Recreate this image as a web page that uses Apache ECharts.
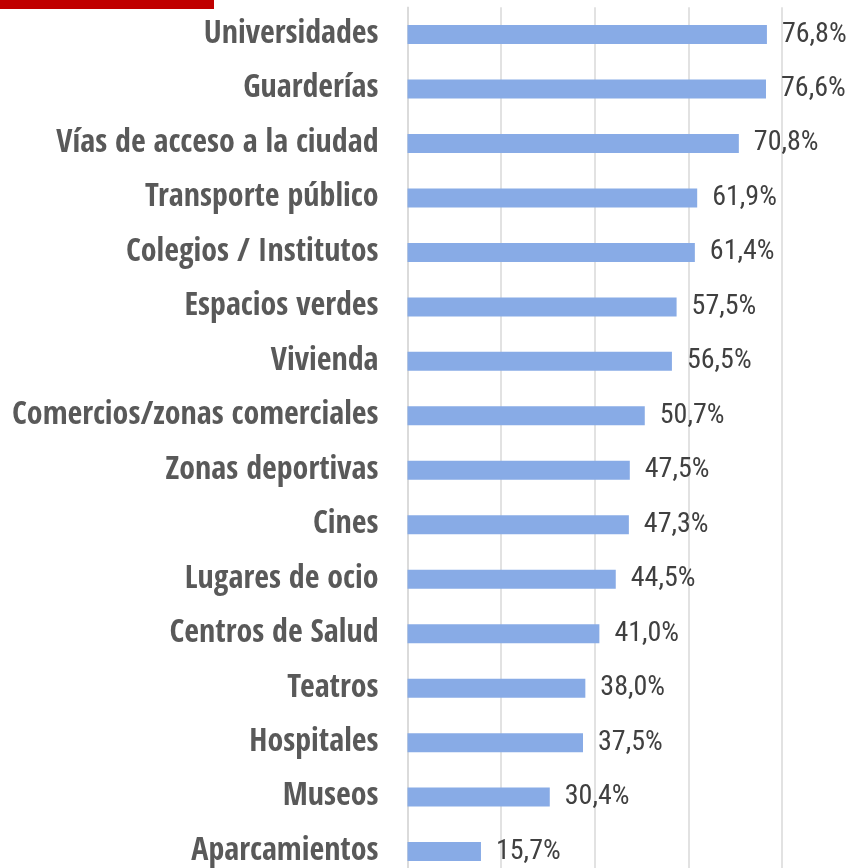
<!DOCTYPE html><html><head><meta charset="utf-8"><script src="https://cdn.jsdelivr.net/npm/echarts@6/dist/echarts.min.js"></script>
<style>html,body{margin:0;padding:0;overflow:hidden;background:#fff;width:850px;height:868px}</style></head><body><div id="c" style="width:880px;height:880px"></div><script>
var categories=['Universidades','Guarderías','Vías de acceso a la ciudad','Transporte público','Colegios / Institutos','Espacios verdes','Vivienda','Comercios/zonas comerciales','Zonas deportivas','Cines','Lugares de ocio','Centros de Salud','Teatros','Hospitales','Museos','Aparcamientos'];
var values=[76.8,76.6,70.8,61.9,61.4,57.5,56.5,50.7,47.5,47.3,44.5,41.0,38.0,37.5,30.4,15.7];
var ch=echarts.init(document.getElementById('c'),null,{renderer:'canvas'});
ch.setOption({
  animation:false,
  graphic:[{type:'rect',left:0,top:0,shape:{width:214,height:9},style:{fill:'#c00000'}}],
  grid:{left:407.5,top:7.3,right:4.5,bottom:1.2,containLabel:false},
  xAxis:{type:'value',min:0,max:100,interval:20,axisLabel:{show:false},axisTick:{show:false},axisLine:{show:false},
    splitLine:{show:true,lineStyle:{color:'#d9d9d9',width:1.5}}},
  yAxis:{type:'category',inverse:true,data:categories,axisTick:{show:false},
    axisLine:{show:true,lineStyle:{color:'#d9d9d9',width:1.5}},
    axisLabel:{margin:29,color:'#595959',fontFamily:'"Open Sans Condensed"',fontWeight:'bold',fontSize:32}},
  series:[{type:'bar',data:values,barWidth:19,itemStyle:{color:'#88abe6'},
    label:{show:true,position:'right',distance:15,color:'#404040',fontFamily:'"Roboto Condensed"',fontSize:28,
      formatter:function(p){return p.value.toFixed(1).replace('.',',')+'%';}}}]
});
</script></body></html>
